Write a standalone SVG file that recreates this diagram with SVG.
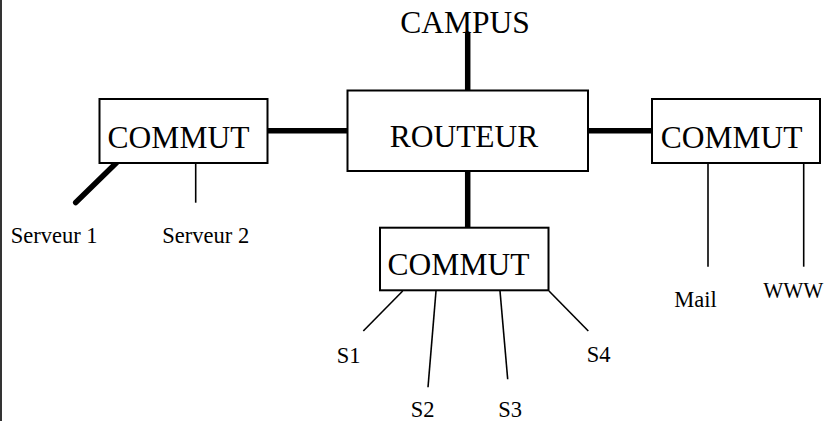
<svg xmlns="http://www.w3.org/2000/svg" width="829" height="421" viewBox="0 0 829 421">
<style>
.box{fill:#fff;stroke:#000;stroke-width:2}
.big{font-family:"Liberation Serif","Times New Roman",serif;font-size:31.5px;fill:#000}
.sm{font-family:"Liberation Serif","Times New Roman",serif;font-size:22.5px;fill:#000}
.thick{stroke:#000;stroke-width:5.5;stroke-linecap:round;fill:none}
.thin{stroke:#000;stroke-width:1.6;fill:none}
</style>
<rect width="829" height="421" fill="#fff"/>
<line x1="1" y1="0" x2="1" y2="421" stroke="#000" stroke-width="1.6"/>
<g id="connectors">
<line class="thick" x1="467.7" y1="34" x2="467.7" y2="90"/>
<line class="thick" x1="268" y1="130.7" x2="348" y2="130.7"/>
<line class="thick" x1="588" y1="130.7" x2="652" y2="130.7"/>
<line class="thick" x1="467.7" y1="171" x2="467.7" y2="227.7"/>
<line class="thick" x1="116.7" y1="162.5" x2="75.7" y2="202.5"/>
<line class="thin" x1="195.7" y1="163" x2="195.7" y2="202.7"/>
<line class="thin" x1="708" y1="163" x2="708" y2="266.7"/>
<line class="thin" x1="803.7" y1="163" x2="803.7" y2="266.7"/>
<line class="thin" x1="402.7" y1="291" x2="363.3" y2="331"/>
<line class="thin" x1="436" y1="291" x2="428" y2="387.3"/>
<line class="thin" x1="500" y1="291" x2="507.7" y2="379.3"/>
<line class="thin" x1="549" y1="291" x2="588.3" y2="331"/>
</g>
<g id="campus"><text class="big" x="465" y="33.3" text-anchor="middle">CAMPUS</text></g>
<g id="routeur">
<rect class="box" x="347.5" y="90.5" width="240.5" height="80.5"/>
<text class="big" x="464" y="146.7" text-anchor="middle">ROUTEUR</text>
</g>
<g id="commut-left">
<rect class="box" x="99.5" y="99" width="168" height="64"/>
<text class="big" x="178.5" y="148" text-anchor="middle">COMMUT</text>
</g>
<g id="commut-right">
<rect class="box" x="652" y="99" width="168" height="64"/>
<text class="big" x="731.7" y="147.7" text-anchor="middle">COMMUT</text>
</g>
<g id="commut-bottom">
<rect class="box" x="380" y="227.7" width="168.5" height="62.6"/>
<text class="big" x="458.5" y="275" text-anchor="middle">COMMUT</text>
</g>
<g id="serveur1"><text class="sm" x="10.7" y="243.3">Serveur 1</text></g>
<g id="serveur2"><text class="sm" x="162.3" y="243.3">Serveur 2</text></g>
<g id="mail"><text class="sm" x="674.3" y="307.3">Mail</text></g>
<g id="www"><text class="sm" x="763.3" y="298.3" textLength="60" lengthAdjust="spacingAndGlyphs">WWW</text></g>
<g id="s1"><text class="sm" x="336.7" y="362.5">S1</text></g>
<g id="s2"><text class="sm" x="410.7" y="416.5">S2</text></g>
<g id="s3"><text class="sm" x="498.3" y="416.5">S3</text></g>
<g id="s4"><text class="sm" x="586.7" y="362.3">S4</text></g>
</svg>
